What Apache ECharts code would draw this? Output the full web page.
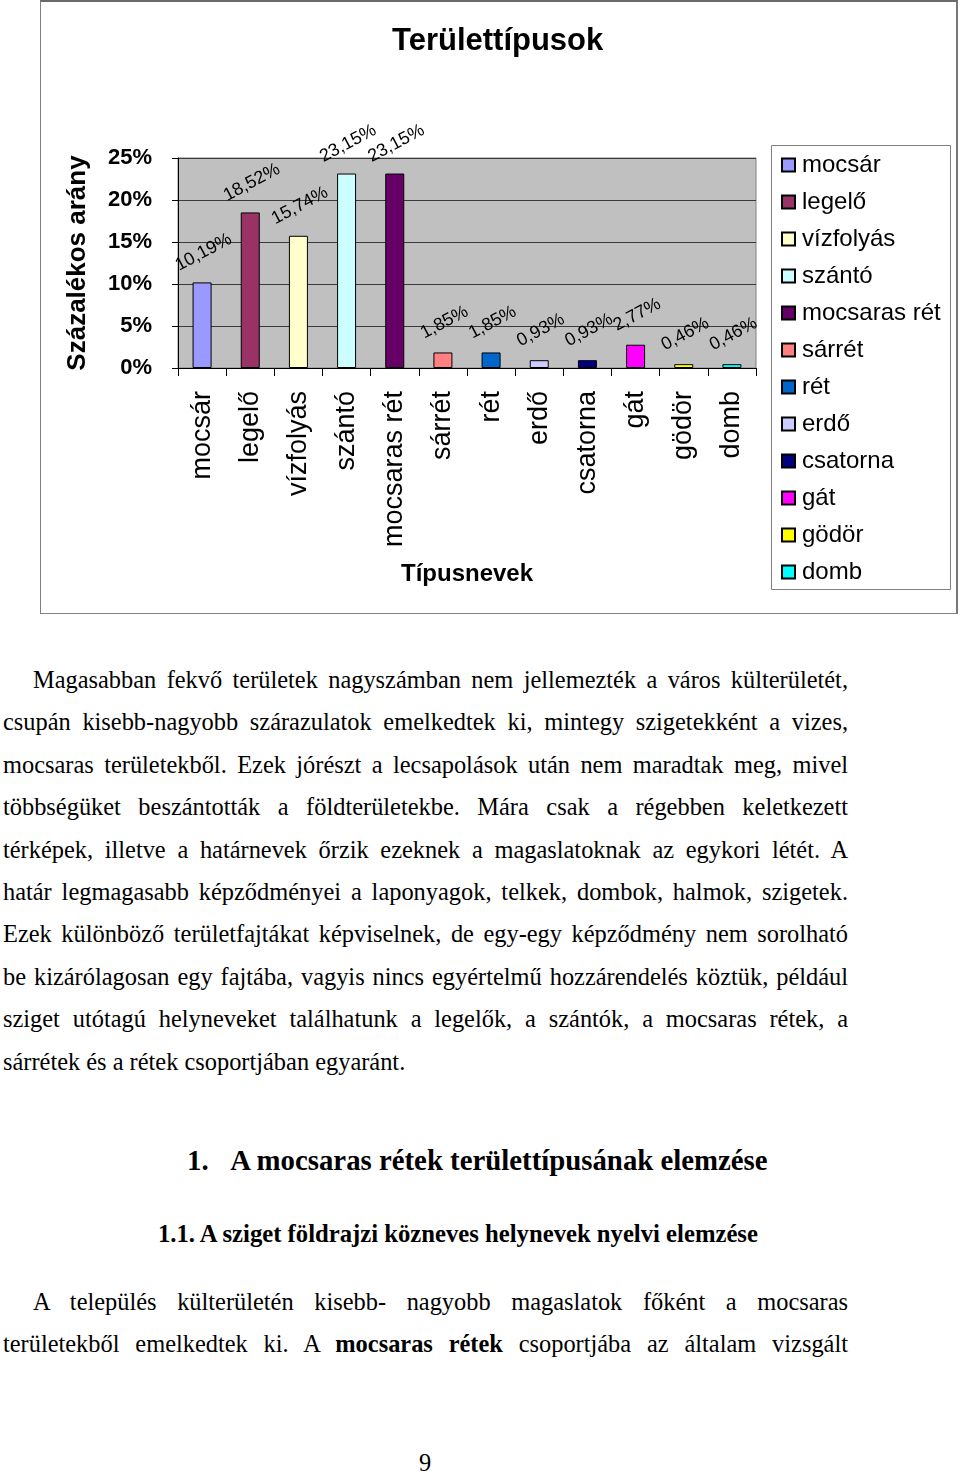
<!DOCTYPE html>
<html lang="hu">
<head>
    <meta charset="UTF-8">
    <title>Területtípusok</title>
    <script src="https://cdn.jsdelivr.net/npm/echarts@6/dist/echarts.min.js"></script>
    <style>
        body { margin: 0; background: #fff; }
        #page { position: relative; width: 960px; height: 1474px; overflow: hidden; background: #fff; }
        #frame { position: absolute; left: 40px; top: 0; width: 915px; height: 611px;
                 border: 1px solid #808080; border-top: 2px solid #6a6a6a; border-right: 2px solid #777; }
        #main { position: absolute; left: 0; top: 0; width: 960px; height: 620px; }
        .txt { position: absolute; left: 3px; width: 845px;
               font-family: "Liberation Serif", "Times New Roman", serif; font-size: 24.4px; line-height: 42.44px; color: #000; }
        .txt div { text-align: justify; text-align-last: justify; }
        .txt div.last { text-align-last: left; }
        .txt div.ind { padding-left: 30px; }
        .h { position: absolute; font-family: "Liberation Serif", "Times New Roman", serif; font-weight: bold; color: #000; white-space: nowrap; }
    </style>
</head>
<body>
<div id="page">
    <div id="frame"></div>
    <div id="main"></div>

    <div class="txt" style="top: 658.8px;">
        <div class="ind">Magasabban fekvő területek nagyszámban nem jellemezték a város külterületét,</div>
        <div>csupán kisebb-nagyobb szárazulatok emelkedtek ki, mintegy szigetekként a vizes,</div>
        <div>mocsaras területekből. Ezek jórészt a lecsapolások után nem maradtak meg, mivel</div>
        <div>többségüket beszántották a földterületekbe. Mára csak a régebben keletkezett</div>
        <div>térképek, illetve a határnevek őrzik ezeknek a magaslatoknak az egykori létét. A</div>
        <div>határ legmagasabb képződményei a laponyagok, telkek, dombok, halmok, szigetek.</div>
        <div>Ezek különböző területfajtákat képviselnek, de egy-egy képződmény nem sorolható</div>
        <div>be kizárólagosan egy fajtába, vagyis nincs egyértelmű hozzárendelés köztük, például</div>
        <div>sziget utótagú helyneveket találhatunk a legelők, a szántók, a mocsaras rétek, a</div>
        <div class="last">sárrétek és a rétek csoportjában egyaránt.</div>
    </div>

    <div class="h" style="left: 187px; top: 1144px; font-size: 28.8px;">1.&nbsp;&nbsp;&nbsp;A mocsaras rétek területtípusának elemzése</div>
    <div class="h" style="left: 158px; top: 1220px; font-size: 24.7px;">1.1. A sziget földrajzi közneves helynevek nyelvi elemzése</div>

    <div class="txt" style="top: 1280.8px;">
        <div class="ind">A település külterületén kisebb- nagyobb magaslatok főként a mocsaras</div>
        <div>területekből emelkedtek ki. A <b>mocsaras rétek</b> csoportjába az általam vizsgált</div>
    </div>

    <div class="txt" style="top: 1442px; left: 419px; width: 40px;"><div class="last">9</div></div>
</div>

<script type="text/javascript">
    // adatok
    var categories = ['mocsár', 'legelő', 'vízfolyás', 'szántó', 'mocsaras rét', 'sárrét', 'rét', 'erdő', 'csatorna', 'gát', 'gödör', 'domb'];
    var values = [10.19, 18.52, 15.74, 23.15, 23.15, 1.85, 1.85, 0.93, 0.93, 2.77, 0.46, 0.46];
    var barColors = ['#9999ff', '#993366', '#ffffcc', '#ccffff', '#660066', '#ff8080', '#0066cc', '#ccccff', '#000080', '#ff00ff', '#ffff00', '#00ffff'];
    var yMin = 0, yMax = 25, yStep = 5;

    var FONT = '"Liberation Sans", Arial, sans-serif';

    let myChart = echarts.init(document.getElementById('main'));

    // minden kategória külön sorozat, hogy a jelmagyarázat működjön
    let series = categories.map((name, i) => {
        return {
            name: name,
            type: 'bar',
            stack: 'all',
            barWidth: 19,
            data: categories.map((c, j) => j === i ? values[i] : null),
            itemStyle: {color: barColors[i], borderColor: '#000', borderWidth: 1},
            label: {
                show: true,
                position: [11, -30],
                rotate: 28,
                align: 'center',
                verticalAlign: 'middle',
                fontFamily: FONT,
                fontSize: 18,
                color: '#000',
                formatter: (p) => p.value == null ? '' : p.value.toFixed(2).replace('.', ',') + '%'
            }
        }
    })

    let option = {
        animation: false,
        backgroundColor: 'transparent',
        title: {
            text: 'Területtípusok',
            left: 392,
            top: 26,
            padding: 0,
            textStyle: {fontFamily: FONT, fontSize: 31, fontWeight: 'bold', color: '#000'}
        },
        graphic: [{
            type: 'rect',
            shape: {x: 771.5, y: 145.5, width: 179, height: 444},
            style: {fill: '#fff', stroke: '#808080', lineWidth: 1},
            z: 0
        }],
        legend: {
            data: categories,
            orient: 'vertical',
            left: 781,
            top: 153,
            itemWidth: 13,
            itemHeight: 13,
            itemGap: 13,
            icon: 'rect',
            padding: 0,
            z: 5,
            textStyle: {fontFamily: FONT, fontSize: 24, color: '#000', padding: [0, 0, 0, 2]}
        },
        grid: {
            left: 178,
            top: 158,
            width: 578,
            height: 210,
            show: true,
            backgroundColor: '#c0c0c0',
            borderColor: '#808080',
            borderWidth: 1
        },
        xAxis: {
            type: 'category',
            data: categories,
            name: 'Típusnevek',
            nameLocation: 'middle',
            nameGap: 194,
            nameTextStyle: {fontFamily: FONT, fontSize: 24, fontWeight: 'bold', color: '#000'},
            axisLine: {lineStyle: {color: '#000', width: 1}},
            axisTick: {show: true, length: 8, lineStyle: {color: '#000'}},
            axisLabel: {interval: 0, rotate: 90, margin: 23, fontFamily: FONT, fontSize: 27, color: '#000'}
        },
        yAxis: {
            type: 'value',
            min: yMin,
            max: yMax,
            interval: yStep,
            name: 'Százalékos arány',
            nameLocation: 'middle',
            nameGap: 87,
            nameTextStyle: {fontFamily: FONT, fontSize: 26, fontWeight: 'bold', color: '#000'},
            axisLine: {show: true, lineStyle: {color: '#000', width: 1}},
            axisTick: {show: true, length: 6, lineStyle: {color: '#000'}},
            axisLabel: {margin: 26, fontFamily: FONT, fontSize: 22, fontWeight: 'bold', color: '#000', formatter: '{value}%'},
            splitLine: {show: true, lineStyle: {color: '#3a3a3a', width: 1}}
        },
        series: series
    };
    myChart.setOption(option);
</script>
</body>
</html>
